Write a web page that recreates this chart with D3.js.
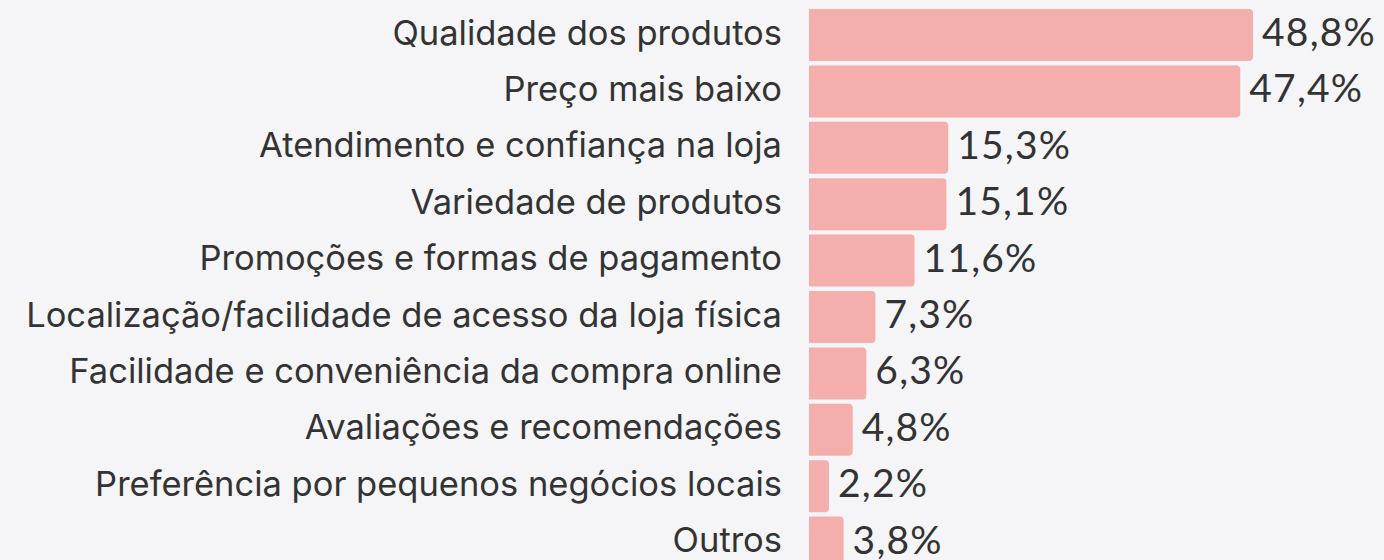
<!DOCTYPE html>
<html>
<head>
<meta charset="utf-8">
<script src="https://cdn.jsdelivr.net/npm/d3@7"></script>
<style>
  html, body { margin: 0; padding: 0; background: #f5f5f8; }
  svg { display: block; }
</style>
</head>
<body>
<div id="chart"></div>
<script>
// categories and values
var categories = [
    "Qualidade dos produtos",
    "Preço mais baixo",
    "Atendimento e confiança na loja",
    "Variedade de produtos",
    "Promoções e formas de pagamento",
    "Localização/facilidade de acesso da loja física",
    "Facilidade e conveniência da compra online",
    "Avaliações e recomendações",
    "Preferência por pequenos negócios locais",
    "Outros"
];
var values = [48.8, 47.4, 15.3, 15.1, 11.6, 7.3, 6.3, 4.8, 2.2, 3.8];
var valueLabels = ["48,8%", "47,4%", "15,3%", "15,1%", "11,6%", "7,3%", "6,3%", "4,8%", "2,2%", "3,8%"];

var width = 1384, height = 560;
var barColor = "#f4aeac";
var textColor = "#333333";

var svg = d3.select("#chart").append("svg")
    .attr("width", width)
    .attr("height", height);

var x = d3.scaleLinear()
    .domain([0, 48.8])
    .range([809, 1253]);

var y = d3.scaleBand()
    .domain(categories)
    .range([9 - 2.2, 9 - 2.2 + 56.4 * categories.length])
    .paddingInner(0.078)
    .paddingOuter(0.039);

// bars with rounded right corners only
var r = 4;
function barPath(x0, x1, y0, h) {
    var w = x1 - x0;
    var rr = Math.min(r, w / 2);
    return "M" + x0 + "," + y0 +
        "H" + (x1 - rr) +
        "Q" + x1 + "," + y0 + " " + x1 + "," + (y0 + rr) +
        "V" + (y0 + h - rr) +
        "Q" + x1 + "," + (y0 + h) + " " + (x1 - rr) + "," + (y0 + h) +
        "H" + x0 + "Z";
}

var rows = svg.selectAll("g.row")
    .data(categories.map(function(c, i) { return {name: c, value: values[i], label: valueLabels[i]}; }))
    .enter()
    .append("g")
    .attr("class", "row");

rows.append("path")
    .attr("d", function(d) { return barPath(x(0), x(d.value), y(d.name), y.bandwidth()); })
    .attr("fill", barColor);

rows.append("text")
    .attr("x", 782)
    .attr("y", function(d) { return y(d.name) + y.bandwidth() / 2 + 9.5; })
    .attr("text-anchor", "end")
    .attr("font-family", "Inter, 'Noto Sans', sans-serif")
    .attr("font-size", 34.5)
    .attr("fill", textColor)
    .text(function(d) { return d.name; });

rows.append("text")
    .attr("x", function(d) { return x(d.value) + 9; })
    .attr("y", function(d) { return y(d.name) + y.bandwidth() / 2 + 11; })
    .attr("font-family", "Lato, 'Open Sans', sans-serif")
    .attr("font-size", 39)
    .attr("letter-spacing", 1.2)
    .attr("fill", textColor)
    .text(function(d) { return d.label; });
</script>
</body>
</html>
